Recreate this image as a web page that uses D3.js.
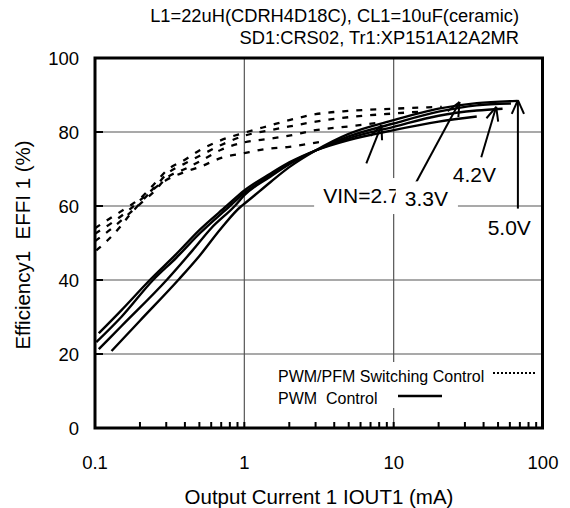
<!DOCTYPE html>
<html><head><meta charset="utf-8">
<script src="https://cdn.jsdelivr.net/npm/d3@7"></script>
<style>
body{margin:0;background:#fff}
svg{display:block}
text{font-family:"Liberation Sans",Arial,Helvetica,sans-serif;fill:#000}
</style>
</head><body>
<svg id="c" width="570" height="508"></svg>
<script>
// ---------- data ----------
const xTickLabels = [0.1, 1, 10, 100];
const yTickLabels = [0, 20, 40, 60, 80, 100];
const xGridValues = [1, 10];
const yGridValues = [20, 40, 60, 80];
const titleLines = ["L1=22uH(CDRH4D18C), CL1=10uF(ceramic)", "SD1:CRS02, Tr1:XP151A12A2MR"];
const xTitle = "Output Current 1 IOUT1 (mA)";
const yTitle = "Efficiency1  EFFI 1 (%)";
const legendLabels = ["PWM/PFM Switching Control", "PWM  Control"];

// PWM control (solid) : [IOUT mA, efficiency %]
const pwmVin27 = [[0.106,25.6],[0.15,31.8],[0.233,40],[0.35,47],[0.5,53.5],[0.76,60],[1,64.2],[1.5,68.8],[2,71.8],[3,75],[5,77.8],[10,80.5],[20,82.8],[36,84.2]];
const pwmVin33 = [[0.102,23.2],[0.15,30],[0.245,40],[0.35,46],[0.5,52.5],[0.8,60],[1,63.5],[1.5,68.3],[2,71.5],[3,75],[5,78.3],[10,81.4],[20,84.4],[36,85.8],[53.6,86.3]];
const pwmVin42 = [[0.106,21.3],[0.15,27.5],[0.302,40],[0.45,48],[0.6,54],[0.863,60],[1,62.9],[1.5,68],[2,71.3],[3,75],[5,78.8],[10,82.3],[20,85.5],[36,87.2],[61,87.7]];
const pwmVin50 = [[0.129,20.8],[0.2,29],[0.361,40],[0.5,46.5],[0.7,54],[0.957,60],[1,60.6],[1.5,66.5],[2,70.5],[3,75],[5,79.5],[10,83.2],[20,86.3],[36,87.8],[67.5,88.4]];

// PWM/PFM switching control (dashed)
const pfmVinA = [[0.1,54],[0.13,57],[0.17,60],[0.2,62],[0.25,66],[0.3,69.5],[0.4,72.5],[0.5,75],[0.7,77.8],[1,79.8],[1.5,81.8],[2,83.2],[3,84.8],[5,85.7],[10,86.3],[21,86.8]];
const pfmVinB = [[0.1,52.5],[0.13,55.5],[0.17,59],[0.2,61.5],[0.25,65],[0.3,68.5],[0.4,71.5],[0.5,73.5],[0.7,76.5],[1,79],[1.5,80.5],[2,81.5],[3,82.8],[5,84],[10,85],[15,85.5]];
const pfmVinC = [[0.1,50.5],[0.13,54],[0.17,58],[0.2,60.5],[0.25,64],[0.3,67.5],[0.4,70],[0.5,72],[0.7,75.2],[1,77.2],[1.5,78.2],[2,79],[3,80.5],[5,81.5],[8,82.5]];
const pfmVinD = [[0.102,48],[0.122,50.8],[0.147,54.3],[0.17,57.5],[0.2,60.7],[0.23,63.4],[0.3,67],[0.4,69.2],[0.5,70.5],[0.7,73],[1,74.3],[1.4,75.4],[2,76],[2.7,76.8],[3.3,77.4]];

// annotations: arrow tail -> tip, label anchor (data units)
const arrowTails = [[6.56,71.5],[13.8,65.6],[38.6,73.2],[67.9,59.3]];
const arrowTips  = [[8.28,81.8],[27.6,88.1],[48.6,86.8],[67.9,88.6]];
const annLabels  = ["VIN=2.7","3.3V","4.2V","5.0V"];
const annAnchors = [[3.37,60.8],[11.86,59.9],[24.9,66.5],[42.6,52.1]];
const annBoxed   = [true, true, false, false];

// ---------- layout ----------
const L = 95, R = 543, T = 58, B = 428;
const svg = d3.select("#c");
const x = d3.scaleLog().domain([0.1, 100]).range([L, R]);
const y = d3.scaleLinear().domain([0, 100]).range([B, T]);

// gridlines
const g = svg.append("g");
g.selectAll("line.gx").data(xGridValues).join("line")
  .attr("x1", d => x(d)).attr("x2", d => x(d)).attr("y1", T).attr("y2", B)
  .attr("stroke", "#555").attr("stroke-width", 1.2);
g.selectAll("line.gy").data(yGridValues).join("line")
  .attr("x1", L).attr("x2", R).attr("y1", d => y(d)).attr("y2", d => y(d))
  .attr("stroke", "#555").attr("stroke-width", 1.2);

const line = d3.line().x(d => x(d[0])).y(d => y(d[1])).curve(d3.curveMonotoneX);

[pfmVinA, pfmVinB, pfmVinC, pfmVinD].forEach(s => {
  svg.append("path").attr("d", line(s)).attr("fill", "none")
    .attr("stroke", "#000").attr("stroke-width", 2.3).attr("stroke-dasharray", "6,8");
});
[pwmVin27, pwmVin33, pwmVin42, pwmVin50].forEach(s => {
  svg.append("path").attr("d", line(s)).attr("fill", "none")
    .attr("stroke", "#000").attr("stroke-width", 2.4);
});

// arrows
arrowTails.forEach((t, i) => {
  const p = arrowTips[i];
  const x0 = x(t[0]), y0 = y(t[1]), x1 = x(p[0]), y1 = y(p[1]);
  svg.append("line").attr("x1", x0).attr("y1", y0).attr("x2", x1).attr("y2", y1)
    .attr("stroke", "#000").attr("stroke-width", 2);
  const ang = Math.atan2(y0 - y1, x0 - x1), len = 15, a = 0.42;
  [ang - a, ang + a].forEach(aa => {
    svg.append("line").attr("x1", x1).attr("y1", y1)
      .attr("x2", x1 + len * Math.cos(aa)).attr("y2", y1 + len * Math.sin(aa))
      .attr("stroke", "#000").attr("stroke-width", 2);
  });
});

// annotation labels
annLabels.forEach((lab, i) => {
  const gg = svg.append("g");
  const r = gg.append("rect").attr("fill", "#fff");
  const t = gg.append("text").attr("x", x(annAnchors[i][0])).attr("y", y(annAnchors[i][1]))
    .attr("font-size", 21).text(lab);
  if (annBoxed[i]) {
    const b = t.node().getBBox();
    r.attr("x", b.x - 9).attr("y", b.y - 6).attr("width", b.width + 19).attr("height", b.height + 13);
  } else r.remove();
});

// legend
const lg = svg.append("g");
lg.append("rect").attr("x", 271).attr("y", 362).attr("width", R - 3 - 271).attr("height", 46).attr("fill", "#fff");
lg.append("text").attr("x", 278).attr("y", 382).attr("font-size", 16).text(legendLabels[0]);
lg.append("text").attr("x", 278).attr("y", 404).attr("font-size", 16).attr("xml:space", "preserve").text(legendLabels[1]);
lg.append("line").attr("x1", 493).attr("x2", 536).attr("y1", 373).attr("y2", 373)
  .attr("stroke", "#000").attr("stroke-width", 2).attr("stroke-dasharray", "2,2");
lg.append("line").attr("x1", 398).attr("x2", 442).attr("y1", 396).attr("y2", 396)
  .attr("stroke", "#000").attr("stroke-width", 2.6);

// frame
svg.append("rect").attr("x", L).attr("y", T).attr("width", R - L - 0.5).attr("height", B - T)
  .attr("fill", "none").attr("stroke", "#000").attr("stroke-width", 3);

// ticks
const minor = [];
[0.1, 1, 10].forEach(dec => { for (let k = 2; k <= 10; k++) minor.push(dec * k); });
svg.selectAll("line.tx").data(minor.filter(v => v < 99)).join("line")
  .attr("x1", d => x(d)).attr("x2", d => x(d)).attr("y1", B).attr("y2", B - 6)
  .attr("stroke", "#000").attr("stroke-width", 2);
svg.selectAll("line.ty").data(yGridValues).join("line")
  .attr("x1", L).attr("x2", L + 8).attr("y1", d => y(d)).attr("y2", d => y(d))
  .attr("stroke", "#000").attr("stroke-width", 2);

// tick labels
svg.selectAll("text.xl").data(xTickLabels).join("text")
  .attr("x", d => x(d)).attr("y", 469).attr("text-anchor", "middle").attr("font-size", 18.5)
  .text(d => String(d));
svg.selectAll("text.yl").data(yTickLabels).join("text")
  .attr("x", 79).attr("y", d => y(d) + 6.5).attr("text-anchor", "end").attr("font-size", 18.5)
  .text(d => String(d));

// titles
svg.append("text").attr("x", 319).attr("y", 504).attr("text-anchor", "middle").attr("font-size", 20.5).text(xTitle);
svg.append("text").attr("transform", "translate(30,245) rotate(-90)").attr("text-anchor", "middle")
  .attr("font-size", 20.5).attr("xml:space", "preserve").text(yTitle);
titleLines.forEach((s, i) => {
  svg.append("text").attr("x", 519).attr("y", 22 + i * 22).attr("text-anchor", "end").attr("font-size", 18.3).text(s);
});
</script>
</body></html>
